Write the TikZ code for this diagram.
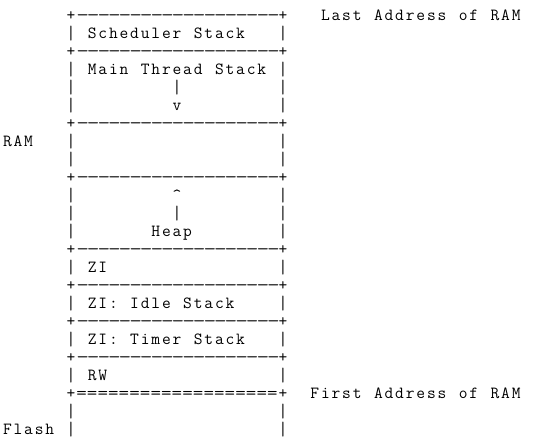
\documentclass[tikz,border=0pt]{standalone}
\usepackage{graphicx}
\newlength\asccw
\setlength\asccw{10.6pt}
\ExplSyntaxOn
\cs_new_protected:Npn \asc_box:n #1
  { \hbox_to_wd:nn { \asccw } { \hfil #1 \hfil } }
\cs_new_protected:Npn \asc_cell:n #1
  {
    \str_case:nnF {#1}
      {
        {.} { \asc_box:n { } }
        {-} { \asc_box:n { \scalebox{1.45}[1]{-} } }
        {=} { \asc_box:n { \scalebox{1.2}[1]{=} } }
        {|} { \asc_box:n { \smash{\raisebox{-0.6pt}{\scalebox{1}[1.14]{|}}} } }
      }
      { \asc_box:n {#1} }
  }
\NewDocumentCommand \asciiline { m }
  { \str_map_function:nN {#1} \asc_cell:n }
\ExplSyntaxOff
\begin{document}
\begin{tikzpicture}[x=1pt,y=1pt,
  asciirow/.style={inner sep=0pt, outer sep=0pt, anchor=base west,
    font=\fontsize{17}{18}\ttfamily}]
\path[fill=white] (0,0) rectangle (535,-445);
\node[asciirow] (r1)  at (2.1,-20.5)  {\asciiline{......+-------------------+...Last.Address.of.RAM}};
\node[asciirow] (r2)  at (2.1,-38.5)  {\asciiline{......|.Scheduler.Stack...|}};
\node[asciirow] (r3)  at (2.1,-56.5)  {\asciiline{......+-------------------+}};
\node[asciirow] (r4)  at (2.1,-74.5)  {\asciiline{......|.Main.Thread.Stack.|}};
\node[asciirow] (r5)  at (2.1,-92.5)  {\asciiline{......|.........|.........|}};
\node[asciirow] (r6)  at (2.1,-110.5) {\asciiline{......|.........v.........|}};
\node[asciirow] (r7)  at (2.1,-128.5) {\asciiline{......+-------------------+}};
\node[asciirow] (r8)  at (2.1,-146.5) {\asciiline{RAM...|...................|}};
\node[asciirow] (r9)  at (2.1,-164.5) {\asciiline{......|...................|}};
\node[asciirow] (r10) at (2.1,-182.5) {\asciiline{......+-------------------+}};
\node[asciirow] (r11) at (2.1,-200.5) {\asciiline{......|.........^.........|}};
\node[asciirow] (r12) at (2.1,-218.5) {\asciiline{......|.........|.........|}};
\node[asciirow] (r13) at (2.1,-236.5) {\asciiline{......|.......Heap........|}};
\node[asciirow] (r14) at (2.1,-254.5) {\asciiline{......+-------------------+}};
\node[asciirow] (r15) at (2.1,-272.5) {\asciiline{......|.ZI................|}};
\node[asciirow] (r16) at (2.1,-290.5) {\asciiline{......+-------------------+}};
\node[asciirow] (r17) at (2.1,-308.5) {\asciiline{......|.ZI:.Idle.Stack....|}};
\node[asciirow] (r18) at (2.1,-326.5) {\asciiline{......+-------------------+}};
\node[asciirow] (r19) at (2.1,-344.5) {\asciiline{......|.ZI:.Timer.Stack...|}};
\node[asciirow] (r20) at (2.1,-362.5) {\asciiline{......+-------------------+}};
\node[asciirow] (r21) at (2.1,-380.5) {\asciiline{......|.RW................|}};
\node[asciirow] (r22) at (2.1,-398.5) {\asciiline{......+===================+..First.Address.of.RAM}};
\node[asciirow] (r23) at (2.1,-416.5) {\asciiline{......|...................|}};
\node[asciirow] (r24) at (2.1,-434.5) {\asciiline{Flash.|...................|}};
\end{tikzpicture}
\end{document}
